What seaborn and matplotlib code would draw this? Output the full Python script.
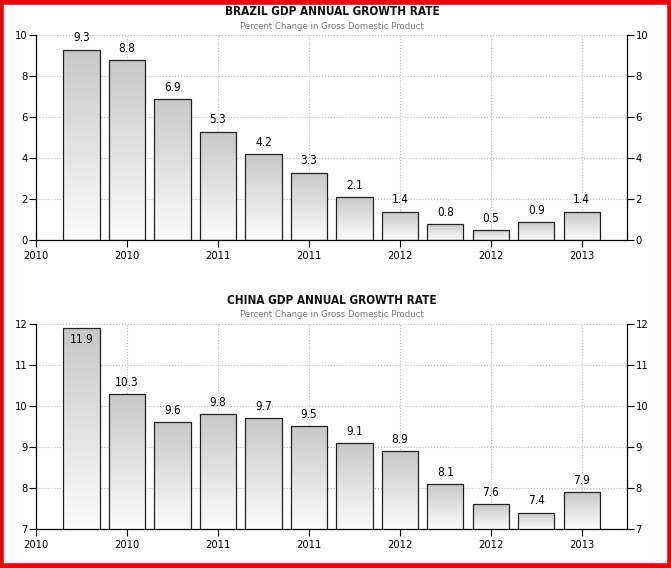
import numpy as np
import matplotlib
matplotlib.use('Agg')
import matplotlib.pyplot as plt
import seaborn as sns
import pandas as pd
from matplotlib.patches import Rectangle

# quarterly GDP growth (percent)
brazil = [9.3, 8.8, 6.9, 5.3, 4.2, 3.3, 2.1, 1.4, 0.8, 0.5, 0.9, 1.4]
china = [11.9, 10.3, 9.6, 9.8, 9.7, 9.5, 9.1, 8.9, 8.1, 7.6, 7.4, 7.9]
year_labels = ['2010', '2010', '2011', '2011', '2012', '2012', '2013']
year_ticks = [-1, 1, 3, 5, 7, 9, 11]

sns.set_style('white')
plt.rcParams['font.family'] = ['DejaVu Sans']
plt.rcParams['font.stretch'] = 'condensed'
plt.rcParams['text.color'] = 'black'

fig = plt.figure(figsize=(6.71, 5.68), dpi=100)

# gradient for the bars: darker gray at top, near white at bottom
grad = np.linspace(0, 1, 256).reshape(-1, 1)
cmap = matplotlib.colors.LinearSegmentedColormap.from_list('g', ['#c8c8c8', '#fcfcfc'])


def draw_panel(rect, values, ylim, yticks, title, inside_top=None):
    ax = fig.add_axes(rect)
    df = pd.DataFrame({'q': np.arange(len(values)), 'v': values})
    sns.barplot(data=df, x='q', y='v', ax=ax, width=0.8, color='white',
                edgecolor='#222222', linewidth=0.9, zorder=3)
    ax.set_xlim(-1, 12)
    ax.set_ylim(*ylim)
    for p, v in zip(ax.patches, values):
        x0, y0 = p.get_x(), ylim[0]
        im = ax.imshow(grad, cmap=cmap, aspect='auto', zorder=2.5,
                       extent=[x0, x0 + p.get_width(), y0, v], origin='upper')
        im.set_clip_path(p)
        p.set_facecolor('none')
        xc = x0 + p.get_width() / 2
        span = ylim[1] - ylim[0]
        if inside_top is not None and v >= inside_top:
            ax.text(xc, v - span * 0.025, f'{v:.1f}', ha='center', va='top',
                    fontsize=8.5, zorder=5, color='black')
        else:
            ax.text(xc, v + span * 0.025, f'{v:.1f}', ha='center', va='bottom',
                    fontsize=8.5, zorder=5, color='black')
    ax.set_xticks(year_ticks)
    ax.set_xticklabels(year_labels)
    ax.set_yticks(yticks)
    ax.set_xlabel('')
    ax.set_ylabel('')
    ax.grid(True, color='#bbbbbb', linestyle=':', linewidth=0.8, zorder=0)
    ax.set_axisbelow(True)
    for s in ['left', 'right', 'bottom']:
        ax.spines[s].set_visible(True)
        ax.spines[s].set_color('black')
        ax.spines[s].set_linewidth(0.9)
    ax.spines['top'].set_visible(False)
    ax.tick_params(axis='both', direction='out', length=5, width=0.8,
                   labelsize=8, colors='black')
    ax.tick_params(axis='y', left=True, right=True, labelleft=True, labelright=True, pad=1)
    ax.tick_params(axis='x', bottom=True, pad=3)
    ax.set_facecolor('white')
    # titles
    top = rect[1] + rect[3]
    fig.text(0.495, top + 0.041, title, ha='center', va='center',
             fontsize=8.5, fontweight='bold', color='#111111')
    fig.text(0.495, top + 0.016, 'Percent Change in Gross Domestic Product',
             ha='center', va='center', fontsize=6.8, color='#777777')
    return ax


draw_panel([0.0537, 0.577, 0.881, 0.361], brazil, (0, 10), [0, 2, 4, 6, 8, 10],
           'BRAZIL GDP ANNUAL GROWTH RATE')
draw_panel([0.0537, 0.0687, 0.881, 0.361], china, (7, 12), [7, 8, 9, 10, 11, 12],
           'CHINA GDP ANNUAL GROWTH RATE', inside_top=11.5)

# red frame around the picture
fig.patches.append(Rectangle((0.002, 0.003), 0.996, 0.994, transform=fig.transFigure,
                             fill=False, edgecolor='#ee0000', linewidth=4))

fig.savefig('out.png', dpi=100, facecolor='white')
